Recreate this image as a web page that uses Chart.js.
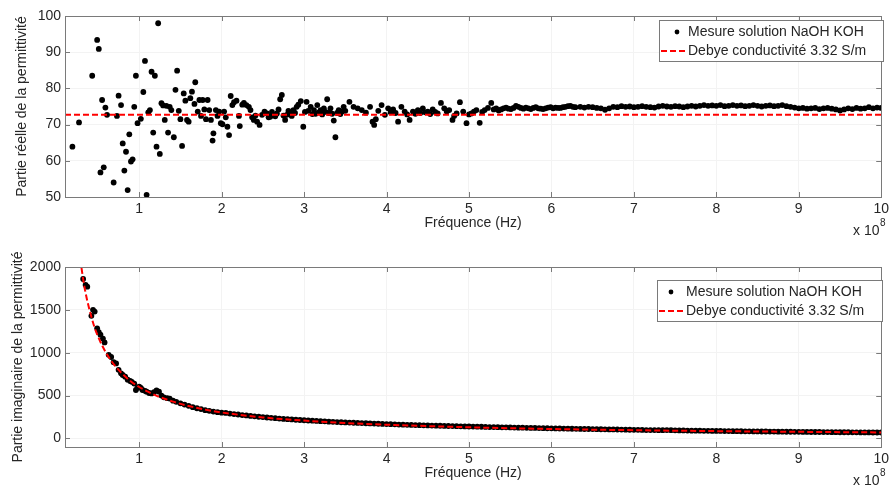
<!DOCTYPE html>
<html>
<head>
<meta charset="utf-8">
<script src="https://cdn.jsdelivr.net/npm/chart.js@4.4.1/dist/chart.umd.min.js"></script>
<style>
  html, body { margin: 0; padding: 0; background: #fff; }
  #wrap { position: relative; width: 893px; height: 490px; }
  .panel { position: absolute; left: 0; width: 893px; height: 245px; }
</style>
</head>
<body>
<div id="wrap">
  <div class="panel" style="top:0"><canvas id="grReel"></canvas></div>
  <div class="panel" style="top:245px"><canvas id="grImag"></canvas></div>
</div>
<script>
// fréquences en unités de 1e8 Hz
const legendes = ["Mesure solution NaOH KOH", "Debye conductivité 3.32 S/m"];
const ticksX = [1, 2, 3, 4, 5, 6, 7, 8, 9, 10];
const ticksReel = [50, 60, 70, 80, 90, 100];
const ticksImag = [0, 500, 1000, 1500, 2000];

// Partie réelle mesurée
const freqReel = [
  0.19, 0.27, 0.43, 0.49, 0.51, 0.53, 0.55, 0.57, 0.59, 0.61,
  0.69, 0.73, 0.75, 0.78, 0.80, 0.82, 0.84, 0.86, 0.88, 0.90,
  0.92, 0.94, 0.96, 0.98, 1.02, 1.05, 1.07, 1.09, 1.11, 1.13,
  1.15, 1.17, 1.19, 1.21, 1.23, 1.25, 1.27, 1.29, 1.31, 1.33,
  1.35, 1.37, 1.39, 1.42, 1.44, 1.46, 1.48, 1.50, 1.52, 1.54,
  1.56, 1.58, 1.60, 1.62, 1.64, 1.67, 1.68, 1.71, 1.73, 1.75,
  1.77, 1.79, 1.81, 1.83, 1.85, 1.87, 1.89, 1.90, 1.93, 1.95,
  1.97, 1.99, 2.01, 2.03, 2.05, 2.07, 2.09, 2.11, 2.13, 2.15,
  2.18, 2.21, 2.22, 2.25, 2.27, 2.30, 2.33, 2.35, 2.37, 2.39,
  2.41, 2.43, 2.46, 2.49, 2.52, 2.55, 2.57, 2.59, 2.61, 2.63,
  2.65, 2.67, 2.69, 2.71, 2.73, 2.75, 2.77, 2.79, 2.81, 2.83,
  2.85, 2.87, 2.89, 2.91, 2.93, 2.96, 2.99, 3.01, 3.03, 3.05,
  3.08, 3.10, 3.12, 3.14, 3.16, 3.18, 3.20, 3.22, 3.24, 3.26,
  3.28, 3.30, 3.32, 3.34, 3.36, 3.38, 3.40, 3.42, 3.44, 3.46,
  3.48, 3.50, 3.55, 3.60, 3.65, 3.70, 3.75, 3.80, 3.83, 3.85,
  3.87, 3.90, 3.94, 3.98, 4.02, 4.05, 4.08, 4.11, 4.14, 4.18,
  4.22, 4.25, 4.28, 4.32, 4.35, 4.38, 4.41, 4.44, 4.47, 4.50,
  4.53, 4.56, 4.59, 4.62, 4.66, 4.70, 4.73, 4.76, 4.80, 4.82,
  4.85, 4.89, 4.93, 4.97, 5.00, 5.03, 5.06, 5.09, 5.13, 5.16,
  5.19, 5.23, 5.27, 5.30, 5.33, 5.36, 5.39, 5.42, 5.45, 5.48,
  5.51, 5.54, 5.57, 5.60, 5.63, 5.66, 5.69, 5.72, 5.75, 5.78,
  5.81, 5.84, 5.87, 5.90, 5.93, 5.96, 5.99, 6.02, 6.05, 6.08,
  6.11, 6.14, 6.17, 6.20, 6.23, 6.26, 6.29, 6.35, 6.40, 6.45,
  6.50, 6.55, 6.60, 6.65, 6.70, 6.75, 6.80, 6.85, 6.90, 6.95,
  7.00, 7.05, 7.10, 7.15, 7.20, 7.25, 7.30, 7.35, 7.40, 7.45,
  7.50, 7.55, 7.60, 7.65, 7.70, 7.75, 7.80, 7.85, 7.90, 7.95,
  8.00, 8.05, 8.10, 8.15, 8.20, 8.25, 8.30, 8.35, 8.40, 8.45,
  8.50, 8.55, 8.60, 8.65, 8.70, 8.75, 8.80, 8.85, 8.90, 8.95,
  9.00, 9.05, 9.10, 9.15, 9.20, 9.25, 9.30, 9.35, 9.40, 9.45,
  9.50, 9.55, 9.60, 9.65, 9.70, 9.75, 9.80, 9.85, 9.90, 9.95,
  10.00
];
const reel = [
  63.9, 70.6, 83.5, 93.4, 90.9, 56.8, 76.8, 58.2, 74.7, 72.7,
  54.0, 72.4, 78.0, 75.4, 64.8, 57.3, 62.5, 51.9, 67.3, 59.8,
  60.4, 74.9, 83.5, 70.4, 71.6, 79.0, 87.6, 50.6, 73.4, 74.0,
  84.6, 67.8, 83.5, 63.9, 98.0, 61.9, 75.9, 75.3, 71.3, 75.2,
  67.8, 74.9, 74.0, 66.5, 79.6, 84.9, 73.8, 71.5, 64.1, 78.6,
  76.6, 71.3, 70.8, 77.3, 79.1, 75.7, 81.7, 73.6, 76.8, 72.4,
  76.8, 74.2, 71.5, 76.8, 74.0, 71.3, 65.6, 67.6, 74.0, 72.4,
  73.6, 70.4, 70.1, 73.6, 72.0, 69.4, 67.1, 77.9, 75.4, 76.2,
  76.6, 72.4, 69.6, 75.5, 76.0, 75.4, 74.9, 74.0, 72.0, 71.3,
  72.5, 70.8, 69.9, 72.7, 73.6, 73.1, 72.0, 72.2, 73.5, 72.7,
  72.3, 73.1, 74.2, 77.0, 78.2, 72.5, 71.3, 72.7, 73.8, 73.1,
  72.4, 74.0, 73.2, 74.9, 75.5, 76.5, 69.4, 73.5, 76.3, 73.8,
  74.9, 72.9, 74.0, 73.0, 75.4, 73.4, 74.0, 72.8, 74.5, 73.5,
  77.0, 73.2, 74.5, 73.0, 71.1, 66.5, 73.2, 74.0, 72.9, 73.6,
  74.9, 73.8, 76.3, 74.9, 74.5, 74.0, 73.3, 74.9, 70.8, 69.9,
  71.5, 73.8, 75.4, 72.7, 74.5, 73.4, 74.2, 73.2, 70.8, 74.9,
  73.6, 72.8, 71.3, 73.6, 73.0, 74.0, 73.2, 74.5, 73.4, 73.6,
  72.9, 74.2, 73.5, 73.1, 76.0, 74.5, 73.6, 74.0, 71.3, 72.4,
  73.1, 76.2, 73.6, 70.4, 72.8, 73.1, 73.6, 74.0, 70.5, 73.5,
  74.0, 74.6, 76.0, 74.2, 74.5, 73.9, 74.2, 74.5, 74.7, 74.4,
  74.3, 74.6, 75.2, 74.9, 74.6, 74.4, 74.7, 74.5, 74.3, 74.6,
  74.8, 74.5, 74.4, 74.3, 74.5, 74.7, 74.8, 74.5, 74.7, 74.6,
  74.6, 74.8, 74.9, 75.1, 75.2, 74.9, 74.8, 74.9, 74.7, 74.9,
  74.8, 74.6, 74.5, 74.1, 74.5, 74.9, 74.8, 75.1, 74.9, 75.0,
  74.8, 74.9, 75.1, 74.9, 74.8, 74.7, 75.0, 75.2, 75.0, 74.9,
  75.1, 75.0, 74.8, 75.0, 75.2, 75.0, 75.2, 75.4, 75.2, 75.3,
  75.2, 75.4, 75.1, 75.2, 75.4, 75.2, 75.3, 75.1, 75.2, 75.4,
  75.2, 75.0, 75.2, 75.3, 75.1, 75.2, 75.4, 75.1, 74.9, 74.7,
  74.5, 74.6, 74.4, 74.5, 74.6, 74.3, 74.5, 74.6, 74.4, 74.2,
  73.9, 74.2, 74.5, 74.3, 74.6, 74.4, 74.5, 74.8, 74.5, 74.7,
  74.6
];

// Partie imaginaire mesurée
const freqImag = [
  0.32, 0.35, 0.37, 0.42, 0.44, 0.46, 0.49, 0.51, 0.53, 0.56,
  0.58, 0.63, 0.66, 0.69, 0.72, 0.75, 0.78, 0.80, 0.83, 0.86,
  0.89, 0.91, 0.94, 0.96, 0.98, 1.00, 1.02, 1.04, 1.07, 1.09,
  1.12, 1.15, 1.18, 1.21, 1.24, 1.27, 1.30, 1.34, 1.37, 1.41,
  1.45, 1.50, 1.55, 1.60, 1.65, 1.70, 1.75, 1.80, 1.85, 1.90,
  1.95, 2.00,
  2.05, 2.10, 2.15, 2.20, 2.25, 2.30, 2.35, 2.40, 2.45, 2.50,
  2.55, 2.60, 2.65, 2.70, 2.75, 2.80, 2.85, 2.90, 2.95, 3.00,
  3.05, 3.10, 3.15, 3.20, 3.25, 3.30, 3.35, 3.40, 3.45, 3.50,
  3.55, 3.60, 3.65, 3.70, 3.75, 3.80, 3.85, 3.90, 3.95, 4.00,
  4.05, 4.10, 4.15, 4.20, 4.25, 4.30, 4.35, 4.40, 4.45, 4.50,
  4.55, 4.60, 4.65, 4.70, 4.75, 4.80, 4.85, 4.90, 4.95, 5.00,
  5.05, 5.10, 5.15, 5.20, 5.25, 5.30, 5.35, 5.40, 5.45, 5.50,
  5.55, 5.60, 5.65, 5.70, 5.75, 5.80, 5.85, 5.90, 5.95, 6.00,
  6.05, 6.10, 6.15, 6.20, 6.25, 6.30, 6.35, 6.40, 6.45, 6.50,
  6.55, 6.60, 6.65, 6.70, 6.75, 6.80, 6.85, 6.90, 6.95, 7.00,
  7.05, 7.10, 7.15, 7.20, 7.25, 7.30, 7.35, 7.40, 7.45, 7.50,
  7.55, 7.60, 7.65, 7.70, 7.75, 7.80, 7.85, 7.90, 7.95, 8.00,
  8.05, 8.10, 8.15, 8.20, 8.25, 8.30, 8.35, 8.40, 8.45, 8.50,
  8.55, 8.60, 8.65, 8.70, 8.75, 8.80, 8.85, 8.90, 8.95, 9.00,
  9.05, 9.10, 9.15, 9.20, 9.25, 9.30, 9.35, 9.40, 9.45, 9.50,
  9.55, 9.60, 9.65, 9.70, 9.75, 9.80, 9.85, 9.90, 9.95, 10.00
];
const imag = [
  1860, 1790, 1770, 1430, 1500, 1480, 1285, 1240, 1210, 1165,
  1120, 975, 950, 890, 875, 800, 760, 740, 720, 685,
  670, 660, 640, 565, 590, 605, 590, 565, 555, 545,
  530, 525, 540, 560, 545, 500, 480, 470, 465, 440,
  427, 410, 395, 380, 365, 352, 342, 330, 322, 313,
  306, 300,
  297, 290, 284, 279, 273, 268, 262, 258, 253, 249,
  244, 240, 236, 232, 228, 225, 222, 218, 215, 212,
  209, 207, 204, 201, 199, 196, 194, 191, 189, 187,
  185, 183, 181, 179, 177, 175, 173, 171, 169, 167,
  166, 164, 162, 161, 159, 158, 156, 155, 153, 152,
  150, 149, 148, 146, 145, 144, 143, 141, 140, 139,
  138, 137, 136, 134, 133, 132, 131, 130, 129, 128,
  127, 126, 125, 124, 123, 122, 121, 120, 119, 118,
  117, 116, 115, 114, 113, 112, 111, 110, 110, 109,
  108, 107, 106, 105, 105, 104, 103, 102, 101, 100,
  100, 99, 98, 98, 97, 96, 96, 97, 96, 94,
  93, 93, 92, 91, 91, 90, 89, 89, 88, 88,
  87, 86, 86, 85, 85, 84, 83, 83, 82, 82,
  81, 81, 80, 80, 79, 79, 78, 78, 77, 77,
  76, 76, 75, 75, 75, 74, 74, 73, 73, 72,
  72, 72, 71, 71, 70, 70, 70, 69, 69, 69
];

// Modèle de Debye
const debyeReelF = [0.1, 10];
const debyeReel = [72.7, 72.7];
const debyeImagF = [0.30, 0.33, 0.36, 0.40, 0.45, 0.50, 0.55, 0.60, 0.70, 0.80,
  0.90, 1.00, 1.10, 1.20, 1.40, 1.60, 1.80, 2.00, 2.50, 3.00,
  3.50, 4.00, 5.00, 6.00, 7.00, 8.00, 9.00, 10.00];
const debyeImag = [1990, 1800, 1650, 1490, 1320, 1190, 1085, 995, 855, 750,
  665, 600, 548, 502, 432, 378, 336, 303, 245, 208,
  180, 160, 130, 110, 96, 85, 77, 70];

const POLICE = "'Liberation Sans', Arial, sans-serif";
const TEXTE = '#262626';

function paires(xs, ys) {
  const n = Math.min(xs.length, ys.length);
  const out = [];
  for (let i = 0; i < n; i++) out.push({ x: xs[i], y: ys[i] });
  return out;
}

// cadre, graduations vers l'intérieur, titres, légende (façon MATLAB)
const cadreMatlab = {
  id: 'cadreMatlab',
  afterDraw(chart, args, o) {
    const { ctx, chartArea: a, scales: { x, y } } = chart;
    ctx.save();
    ctx.strokeStyle = '#7a7a7a';
    ctx.lineWidth = 1;
    ctx.strokeRect(Math.round(a.left) + 0.5, Math.round(a.top) + 0.5,
      Math.round(a.right - a.left), Math.round(a.bottom - a.top));
    ctx.beginPath();
    x.ticks.forEach(t => {
      const px = Math.round(x.getPixelForValue(t.value)) + 0.5;
      ctx.moveTo(px, a.bottom); ctx.lineTo(px, a.bottom - 5);
      ctx.moveTo(px, a.top); ctx.lineTo(px, a.top + 5);
    });
    y.ticks.forEach(t => {
      const py = Math.round(y.getPixelForValue(t.value)) + 0.5;
      ctx.moveTo(a.left, py); ctx.lineTo(a.left + 5, py);
      ctx.moveTo(a.right, py); ctx.lineTo(a.right - 5, py);
    });
    ctx.stroke();

    ctx.fillStyle = TEXTE;
    ctx.font = '14px ' + POLICE;
    ctx.textAlign = 'center';
    ctx.textBaseline = 'middle';
    ctx.fillText('Fréquence (Hz)', (a.left + a.right) / 2, o.xTitreY);

    ctx.save();
    ctx.translate(o.yTitreX, (a.top + a.bottom) / 2);
    ctx.rotate(-Math.PI / 2);
    ctx.fillText(o.yTitre, 0, 0);
    ctx.restore();

    // exposant de l'axe x
    ctx.textAlign = 'left';
    ctx.fillText('x 10', 853, o.expY);
    ctx.font = '10px ' + POLICE;
    ctx.fillText('8', 880, o.expY - 8);

    // légende
    const L = o.legende;
    ctx.fillStyle = '#fff';
    ctx.fillRect(L.x, L.y, L.w, L.h);
    ctx.strokeStyle = '#7a7a7a';
    ctx.strokeRect(L.x + 0.5, L.y + 0.5, L.w, L.h);
    ctx.fillStyle = '#000';
    ctx.beginPath();
    ctx.arc(L.mx, L.y + 12, 2.4, 0, Math.PI * 2);
    ctx.fill();
    ctx.strokeStyle = '#ff0000';
    ctx.lineWidth = 2;
    ctx.setLineDash([6, 3]);
    ctx.beginPath();
    ctx.moveTo(L.x + 2, L.y + 31); ctx.lineTo(L.tx - 2, L.y + 31);
    ctx.stroke();
    ctx.setLineDash([]);
    ctx.fillStyle = TEXTE;
    ctx.font = '14px ' + POLICE;
    ctx.fillText(legendes[0], L.tx, L.y + 12);
    ctx.fillText(legendes[1], L.tx, L.y + 31);
    ctx.restore();
  }
};

function graphe(id, c) {
  return new Chart(document.getElementById(id), {
    type: 'scatter',
    data: {
      datasets: [{
        label: legendes[0],
        data: paires(c.fx, c.fy),
        order: 2,
        pointRadius: 2.9,
        pointBackgroundColor: '#000',
        pointBorderWidth: 0,
        showLine: false
      }, {
        label: legendes[1],
        data: paires(c.dx, c.dy),
        order: 1,
        showLine: true,
        pointRadius: 0,
        borderColor: '#ff0000',
        borderWidth: 2,
        borderDash: [6, 3],
        cubicInterpolationMode: 'monotone',
        fill: false
      }]
    },
    options: {
      responsive: true,
      maintainAspectRatio: false,
      animation: false,
      events: [],
      layout: { padding: { top: c.haut, right: 7, left: 0, bottom: 0 } },
      plugins: {
        legend: { display: false },
        tooltip: { enabled: false },
        cadreMatlab: c.cadre
      },
      scales: {
        x: {
          type: 'linear',
          min: 0.1,
          max: 10,
          afterBuildTicks: s => { s.ticks = ticksX.map(v => ({ value: v })); },
          afterFit: s => { s.height = c.hx; },
          grid: { color: '#f3f3f3', drawTicks: false },
          border: { display: false },
          ticks: { padding: 4, color: TEXTE, font: { family: POLICE, size: 14 }, maxRotation: 0, callback: v => String(v) }
        },
        y: {
          min: c.ymin,
          max: c.ymax,
          afterBuildTicks: s => { s.ticks = c.ticksY.map(v => ({ value: v })); },
          afterFit: s => { s.width = 65; },
          grid: { color: '#f3f3f3', drawTicks: false },
          border: { display: false },
          ticks: { padding: 4, color: TEXTE, font: { family: POLICE, size: 14 }, callback: v => String(v) }
        }
      }
    },
    plugins: [cadreMatlab]
  });
}

graphe('grReel', {
  fx: freqReel, fy: reel, dx: debyeReelF, dy: debyeReel,
  ymin: 50, ymax: 100, ticksY: ticksReel, haut: 16, hx: 48,
  cadre: {
    yTitre: 'Partie réelle de la permittivité', yTitreX: 22, xTitreY: 223, expY: 231,
    legende: { x: 659, y: 20, w: 224, h: 41, mx: 677, tx: 688 }
  }
});

graphe('grImag', {
  fx: freqImag, fy: imag, dx: debyeImagF, dy: debyeImag,
  ymin: -100, ymax: 2000, ticksY: ticksImag, haut: 22, hx: 43,
  cadre: {
    yTitre: 'Partie imaginaire de la permittivité', yTitreX: 18, xTitreY: 228, expY: 236,
    legende: { x: 657, y: 35, w: 225, h: 41, mx: 671, tx: 686 }
  }
});
</script>
</body>
</html>
